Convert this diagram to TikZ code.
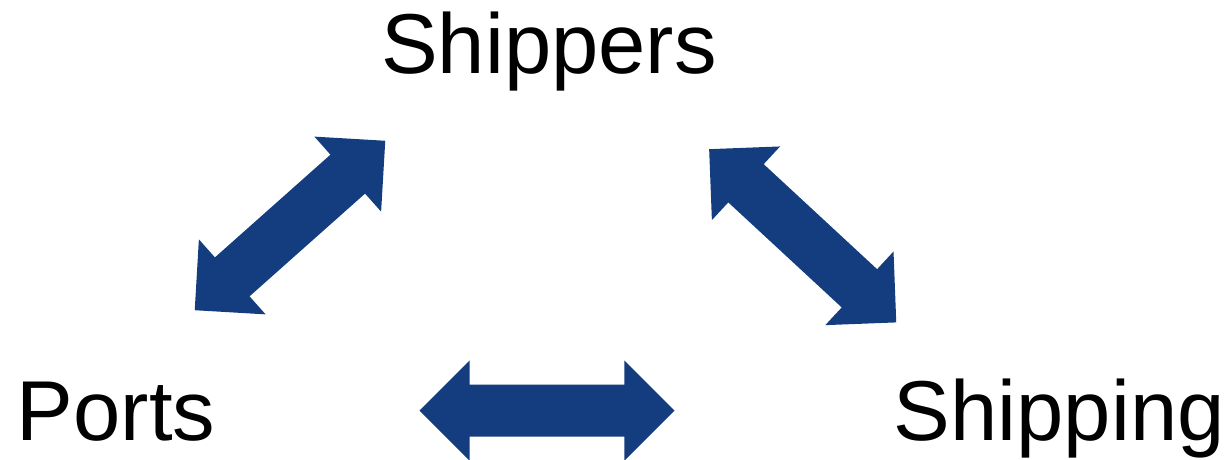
\documentclass[tikz,border=0pt]{standalone}
\usepackage{fontspec}
\setmainfont{Liberation Sans}
\usetikzlibrary{shapes.arrows}
\definecolor{arrowblue}{RGB}{19,61,126}
\tikzset{
  lab/.style={inner sep=0pt, anchor=base west, font=\fontsize{85}{100}\selectfont},
  dblarrow/.style={double arrow, fill=arrowblue, draw=none,
    inner xsep=0pt, inner ysep=25.85pt, minimum width=0pt,
    minimum height=255pt, double arrow head extend=24.15pt,
    double arrow tip angle=90}
}
\begin{document}
\begin{tikzpicture}[x=1pt,y=1pt]
\useasboundingbox (0,0) rectangle (1226,460);
\node[lab] (shippers) at (381,386.5) {Shippers};
\node[lab] (ports) at (16.6,19) {Ports};
\node[lab] (shipping) at (893.7,19) {Shipping};
\node[dblarrow, rotate=41.65] (a1) at (290,234.5) {};
\node[dblarrow, rotate=-42.8] (a2) at (802.7,224.2) {};
\node[dblarrow] (a3) at (547,49.3) {};
\end{tikzpicture}
\end{document}
